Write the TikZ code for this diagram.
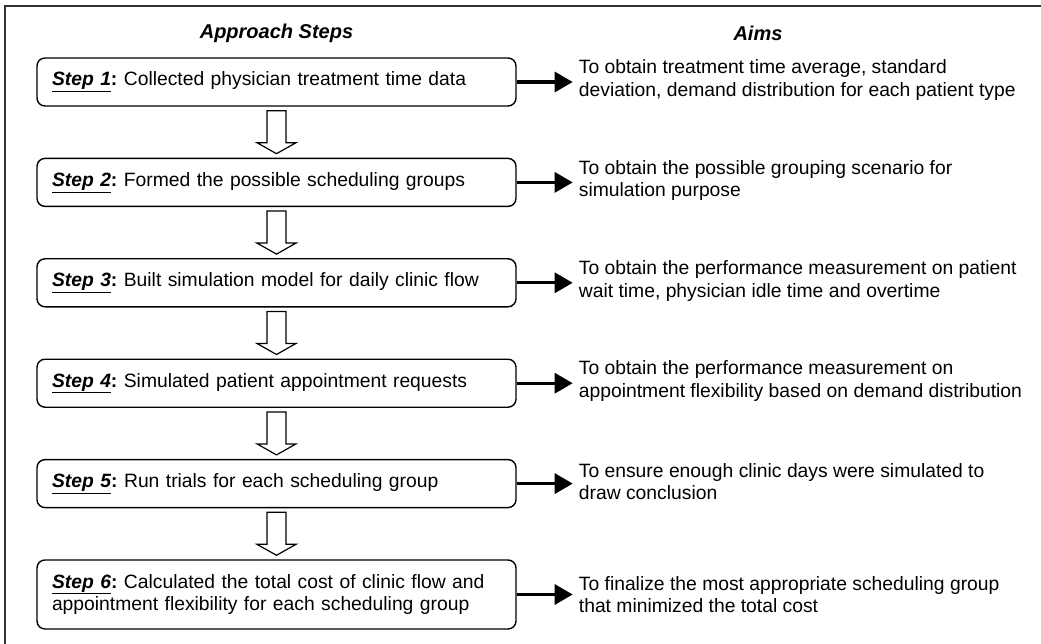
\documentclass[tikz,border=0pt]{standalone}
\usepackage{fontspec}
\setmainfont{Liberation Sans}
\usetikzlibrary{arrows.meta, positioning, calc}

\newcommand{\steplabel}[1]{\underline{\textbf{\textit{Step #1}}}\textbf{:}\ }

\begin{document}
\begin{tikzpicture}[
  x=1pt, y=-1pt,
  every node/.style={font=\fontsize{19.3}{22.5}\selectfont},
  heading/.style={
    font=\fontsize{20}{24}\selectfont\bfseries\itshape
  },
  stepbox/.style={
    draw=black, line width=1.4pt, fill=white,
    rounded corners=8pt, align=left,
    text width=449pt, inner xsep=15pt,
    minimum height=48pt
  },
  aimtext/.style={align=left, inner sep=0pt},
  arr/.style={-{Triangle[length=18pt, width=20pt]}, line width=3.2pt, shorten >=6pt},
  hollow/.style={draw=black, line width=1.2pt, fill=white, line join=miter},
  node distance=51pt
]
\useasboundingbox (0,0) rectangle (1041,644);

%% Rahmen (oben und links)
\draw[line width=1.5pt, black!80] (5,644) -- (5,6) -- (1041,6);

%% Ueberschriften
\node[heading] (hsteps) at (276.5,33) {Approach Steps};
\node[heading] (haims) at (758,33) {Aims};

%% Schritte
\node[stepbox] (s1) at (276.5,82)
  {\steplabel{1}Collected physician treatment time data};
\node[stepbox, below=of s1] (s2)
  {\steplabel{2}Formed the possible scheduling groups};
\node[stepbox, below=of s2] (s3)
  {\steplabel{3}Built simulation model for daily clinic flow};
\node[stepbox, below=of s3] (s4)
  {\steplabel{4}Simulated patient appointment requests};
\node[stepbox, below=of s4] (s5)
  {\steplabel{5}Run trials for each scheduling group};
\node[stepbox, below=of s5, minimum height=69pt] (s6)
  {\steplabel{6}Calculated the total cost of clinic flow and\\
   appointment flexibility for each scheduling group};

%% Ziele
\node[aimtext, right=62pt of s1, yshift=2pt] (a1)
  {To obtain treatment time average, standard\\
   deviation, demand distribution for each patient type};
\node[aimtext, right=62pt of s2, yshift=2pt] (a2)
  {To obtain the possible grouping scenario for\\
   simulation purpose};
\node[aimtext, right=62pt of s3, yshift=2pt] (a3)
  {To obtain the performance measurement on patient\\
   wait time, physician idle time and overtime};
\node[aimtext, right=62pt of s4, yshift=2pt] (a4)
  {To obtain the performance measurement on\\
   appointment flexibility based on demand distribution};
\node[aimtext, right=62pt of s5, yshift=2pt] (a5)
  {To ensure enough clinic days were simulated to\\
   draw conclusion};
\node[aimtext, right=62pt of s6] (a6)
  {To finalize the most appropriate scheduling group\\
   that minimized the total cost};

%% Pfeile Schritt -> Ziel
\foreach \i in {1,...,6}
  \draw[arr] (s\i.east) -- (s\i.east -| a\i.west);

%% Blockpfeile zwischen den Schritten
\foreach \a/\b in {s1/s2, s2/s3, s3/s4, s4/s5, s5/s6}
  \draw[hollow] ($(\a.south)+(-9.5,4)$) -- ($(\a.south)+(9.5,4)$)
    -- ($(\b.north)+(9.5,-15)$) -- ($(\b.north)+(19.5,-15)$)
    -- ($(\b.north)+(0,-4)$) -- ($(\b.north)+(-19.5,-15)$)
    -- ($(\b.north)+(-9.5,-15)$) -- cycle;

\end{tikzpicture}
\end{document}
